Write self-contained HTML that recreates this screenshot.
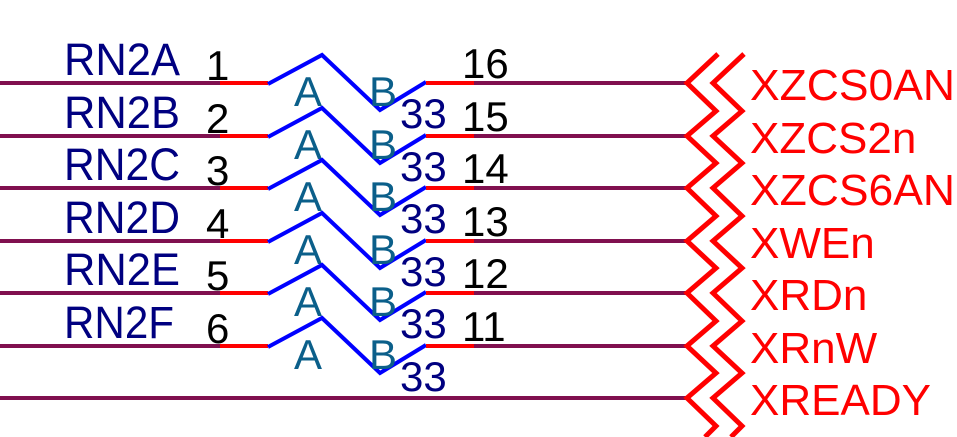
<!DOCTYPE html>
<html><head><meta charset="utf-8"><style>
html,body{margin:0;padding:0;background:#fff;overflow:hidden;width:957px;height:437px;}
svg{display:block;}
text{font-family:"Liberation Sans",Arial,sans-serif;}
</style></head><body>
<svg width="957" height="437" viewBox="0 0 957 437" xmlns="http://www.w3.org/2000/svg">
<defs>
<g id="res">
  <line x1="0" y1="0" x2="220" y2="0" stroke="#80104f" stroke-width="4"/>
  <line x1="220" y1="0" x2="268" y2="0" stroke="#ff0000" stroke-width="4"/>
  <polyline points="268,1 322,-28 380,27 426,-1" fill="none" stroke="#0000ff" stroke-width="4" stroke-linejoin="miter"/>
  <line x1="426" y1="0" x2="474" y2="0" stroke="#ff0000" stroke-width="4"/>
  <line x1="474" y1="0" x2="687" y2="0" stroke="#80104f" stroke-width="4"/>
  <text x="294" y="23" font-size="42" fill="#0b5f8a">A</text>
  <text x="369" y="23" font-size="42" fill="#0b5f8a">B</text>
</g>
</defs>
<g>
<use href="#res" y="83"/>
<use href="#res" y="136"/>
<use href="#res" y="188"/>
<use href="#res" y="241"/>
<use href="#res" y="293"/>
<use href="#res" y="346"/>
<line x1="0" y1="398" x2="687" y2="398" stroke="#80104f" stroke-width="4"/>
</g>
<g font-size="45" fill="#000080">
<text x="64" y="75" textLength="116" lengthAdjust="spacingAndGlyphs">RN2A</text>
<text x="64" y="128" textLength="116" lengthAdjust="spacingAndGlyphs">RN2B</text>
<text x="64" y="180" textLength="116" lengthAdjust="spacingAndGlyphs">RN2C</text>
<text x="64" y="233" textLength="116" lengthAdjust="spacingAndGlyphs">RN2D</text>
<text x="64" y="285" textLength="116" lengthAdjust="spacingAndGlyphs">RN2E</text>
<text x="64" y="338" textLength="110" lengthAdjust="spacingAndGlyphs">RN2F</text>
</g>
<g font-size="42" fill="#000000">
<text x="206" y="80">1</text><text x="206" y="133">2</text><text x="206" y="185">3</text>
<text x="206" y="238">4</text><text x="206" y="290">5</text><text x="206" y="343">6</text>
<text x="462" y="78">16</text><text x="462" y="131">15</text><text x="462" y="183">14</text>
<text x="462" y="236">13</text><text x="462" y="288">12</text><text x="462" y="341">11</text>
</g>
<g font-size="42" fill="#000080">
<text x="400" y="128">33</text><text x="400" y="181">33</text><text x="400" y="233">33</text>
<text x="400" y="286">33</text><text x="400" y="338">33</text><text x="400" y="391">33</text>
</g>
<g fill="none" stroke="#ff0000" stroke-width="5" stroke-linejoin="miter">
<polyline points="718,54 687,83 716,111 687,136 716,163 687,188 716,216 687,241 716,268 687,293 716,321 687,346 716,373 687,398 716,426 705,437"/>
<polyline points="744,54 713,83 742,111 713,136 742,163 713,188 742,216 713,241 742,268 713,293 742,321 713,346 742,373 713,398 742,426 731,437"/>
</g>
<g font-size="44" fill="#ff0000">
<text x="750" y="100" textLength="205" lengthAdjust="spacingAndGlyphs">XZCS0AN</text>
<text x="750" y="153">XZCS2n</text>
<text x="750" y="205" textLength="205" lengthAdjust="spacingAndGlyphs">XZCS6AN</text>
<text x="750" y="258">XWEn</text>
<text x="750" y="310">XRDn</text>
<text x="750" y="363">XRnW</text>
<text x="750" y="415">XREADY</text>
</g>
</svg>
</body></html>
